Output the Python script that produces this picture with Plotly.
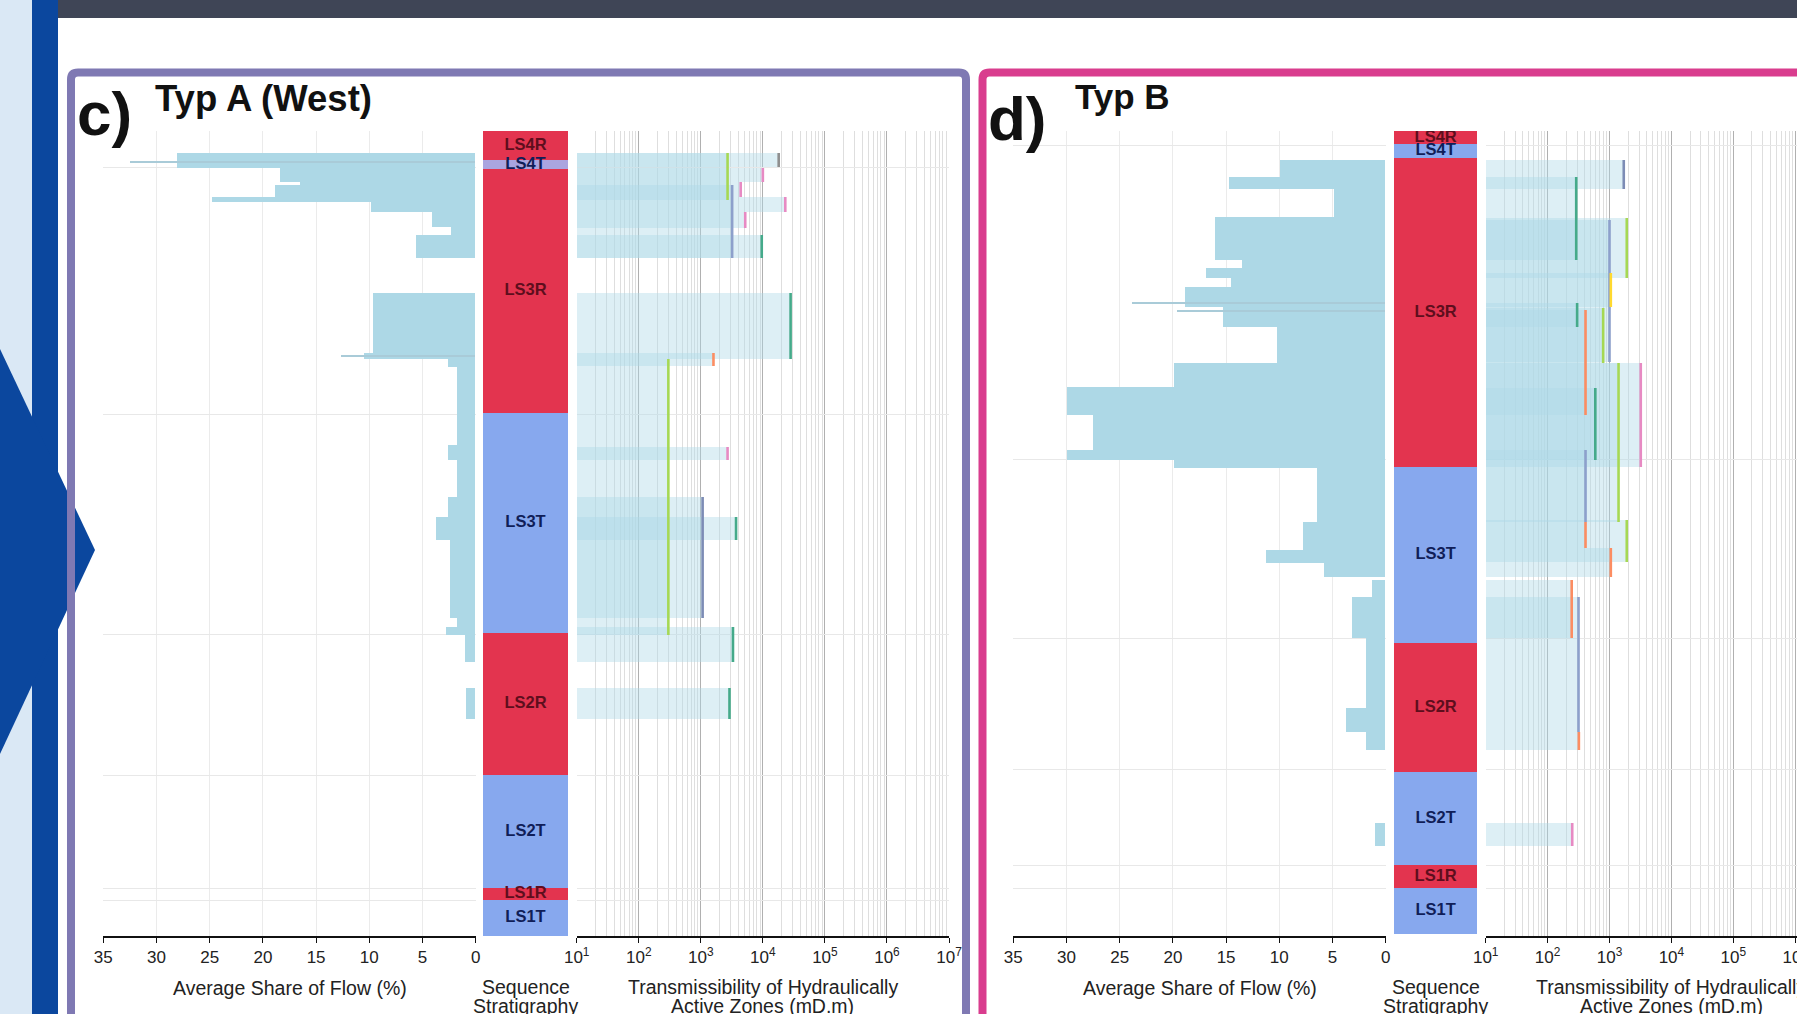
import plotly.graph_objects as go

W, H = 1797, 1014

# ======================= DATA =======================
strat_units = ["LS4R", "LS4T", "LS3R", "LS3T", "LS2R", "LS2T", "LS1R", "LS1T"]

# ---- panel c : Typ A (West) ----  (depth below top of section, m)
c_strat_top = [0, 29, 38, 282, 502, 644, 757, 769]
c_strat_base = [29, 38, 282, 502, 644, 757, 769, 805]
c_grid_depths = [36, 283, 503, 644, 757, 769]

c_flow_top = [22, 37, 51, 54, 66, 71, 81, 96, 104, 162, 222, 228, 236, 314, 329, 366, 386, 409, 487, 496, 504, 557]
c_flow_base = [37, 51, 54, 66, 71, 81, 96, 104, 127, 222, 228, 236, 314, 329, 366, 386, 409, 487, 496, 504, 531, 588]
c_flow_share = [28.0, 18.4, 16.5, 18.8, 24.8, 9.8, 4.1, 2.3, 5.6, 9.6, 10.5, 2.6, 1.7, 2.6, 1.7, 2.6, 3.7, 2.4, 1.7, 2.8, 1.0, 0.9]
c_trace_depth = [31, 225]
c_trace_share = [32.5, 12.6]

c_zone_top = [22, 22, 37, 51, 66, 81, 54, 104, 162, 222, 228, 316, 366, 386, 496, 557]
c_zone_base = [36, 69, 51, 66, 81, 97, 127, 127, 228, 235, 504, 329, 487, 409, 531, 588]
c_zone_T = [1.8e4, 2.7e3, 1.0e4, 4.4e3, 2.3e4, 5.2e3, 3.2e3, 9.6e3, 2.8e4, 1.6e3, 300, 2.7e3, 1.07e3, 3.7e3, 3.3e3, 2.9e3]
c_zone_group = ["G8", "G5", "G4", "G4", "G4", "G4", "G3", "G1", "G1", "G2", "G5", "G4", "G9", "G1", "G1", "G1"]

# ---- panel d : Typ B ----
d_strat_top = [0, 13, 27, 336, 512, 641, 734, 757]
d_strat_base = [13, 27, 336, 512, 641, 734, 757, 803]
d_grid_depths = [0, 14, 328, 507, 638, 734, 757]

d_flow_top = [29, 46, 58, 86, 129, 137, 147, 156, 176, 196, 232, 256, 284, 319, 329, 337, 391, 419, 432, 449, 466, 507, 577, 601, 692]
d_flow_base = [46, 58, 86, 129, 137, 147, 156, 176, 196, 232, 256, 284, 319, 329, 337, 391, 419, 432, 446, 466, 507, 577, 601, 619, 715]
d_flow_share = [9.9, 14.7, 4.8, 16.0, 13.5, 16.9, 14.5, 18.8, 15.3, 10.2, 19.9, 29.9, 27.5, 29.9, 19.9, 6.4, 7.7, 11.2, 5.8, 1.3, 3.1, 1.8, 3.7, 1.8, 1.0]
d_trace_depth = [172, 180]
d_trace_share = [23.8, 19.6]

d_zone_top = [29, 46, 87, 89, 142, 172, 179, 177, 232, 232, 257, 319, 391, 389, 417, 449, 466, 601, 692]
d_zone_base = [58, 129, 147, 231, 176, 196, 284, 232, 391, 336, 329, 391, 417, 431, 446, 507, 601, 619, 715]
d_zone_T = [1.7e3, 290, 1.9e3, 1.0e3, 1.05e3, 300, 410, 790, 1.4e3, 3.2e3, 590, 410, 410, 1.9e3, 1.05e3, 245, 316, 320, 250]
d_zone_group = ["G9", "G1", "G5", "G3", "G6", "G1", "G2", "G5", "G5", "G4", "G1", "G3", "G2", "G5", "G2", "G2", "G3", "G2", "G4"]

flow_ticks = [35, 30, 25, 20, 15, 10, 5, 0]
log_ticks = [1e1, 1e2, 1e3, 1e4, 1e5, 1e6, 1e7]
log_ticktext = ["10<sup>1</sup>", "10<sup>2</sup>", "10<sup>3</sup>", "10<sup>4</sup>",
                "10<sup>5</sup>", "10<sup>6</sup>", "10<sup>7</sup>"]

# ======================= STYLE =======================
FONT = "Liberation Sans, Arial, sans-serif"
FLOW_COLOR = "#add8e6"
ZONE_FILL = "rgba(173,216,230,0.42)"
RED = "#e3344f"
BLUE = "#87a8ee"
LAV = "#aaa5e0"
group_colors = {"G1": "#45aa8a", "G2": "#fc8d62", "G3": "#8da0cb", "G4": "#e78ac3",
                "G5": "#a6d854", "G6": "#ffd92f", "G8": "#8f8f8f", "G9": "#7d8cb5"}


def px_x(p):
    return p / W


def px_y(p):
    return 1 - p / H


fig = go.Figure()


def add_panel(xf, xs, xl, yg, ys, s_top, s_base, f_top, f_base, f_share,
              t_depth, t_share, z_top, z_base, z_T, z_group, unit_colors):
    # flow share bars
    fig.add_trace(go.Bar(
        orientation="h", x=f_share,
        y=[(a + b) / 2 for a, b in zip(f_top, f_base)],
        width=[b - a for a, b in zip(f_top, f_base)],
        marker=dict(color=FLOW_COLOR, line=dict(width=0)),
        xaxis=xf, yaxis=yg, showlegend=False, hoverinfo="skip"))
    fig.add_trace(go.Bar(
        orientation="h", x=t_share, y=t_depth, width=[1.2] * len(t_depth),
        marker=dict(color="#a9cbd8", line=dict(width=0)),
        xaxis=xf, yaxis=yg, showlegend=False, hoverinfo="skip"))
    # stratigraphy column
    fig.add_trace(go.Bar(
        orientation="h", x=[1] * len(strat_units), base=[0] * len(strat_units),
        y=[(a + b) / 2 for a, b in zip(s_top, s_base)],
        width=[b - a for a, b in zip(s_top, s_base)],
        marker=dict(color=unit_colors, line=dict(width=0)),
        xaxis=xs, yaxis=ys, showlegend=False, hoverinfo="skip"))
    fig.add_trace(go.Scatter(
        x=[0.5] * len(strat_units),
        y=[(a + b) / 2 for a, b in zip(s_top, s_base)],
        mode="text", text=["<b>%s</b>" % u for u in strat_units],
        textfont=dict(family=FONT, size=16.5,
                      color=["#5e0e1d" if u.endswith("R") else "#101e58" for u in strat_units]),
        xaxis=xs, yaxis=ys, showlegend=False, hoverinfo="skip"))
    # transmissibility zones
    fig.add_trace(go.Bar(
        orientation="h", base=[10] * len(z_T), x=[t - 10 for t in z_T],
        y=[(a + b) / 2 for a, b in zip(z_top, z_base)],
        width=[b - a for a, b in zip(z_top, z_base)],
        marker=dict(color=ZONE_FILL, line=dict(width=0)),
        xaxis=xl, yaxis=yg, showlegend=False, hoverinfo="skip"))
    for a, b, t, g in zip(z_top, z_base, z_T, z_group):
        fig.add_trace(go.Scatter(
            x=[t, t], y=[a, b], mode="lines",
            line=dict(color=group_colors[g], width=2.6),
            xaxis=xl, yaxis=yg, showlegend=False, hoverinfo="skip"))


c_unit_colors = [RED if u.endswith("R") else BLUE for u in strat_units]
c_unit_colors[1] = LAV
d_unit_colors = [RED if u.endswith("R") else BLUE for u in strat_units]

add_panel("x", "x2", "x3", "y", "y3", c_strat_top, c_strat_base, c_flow_top, c_flow_base,
          c_flow_share, c_trace_depth, c_trace_share, c_zone_top, c_zone_base, c_zone_T,
          c_zone_group, c_unit_colors)
add_panel("x4", "x5", "x6", "y2", "y4", d_strat_top, d_strat_base, d_flow_top, d_flow_base,
          d_flow_share, d_trace_depth, d_trace_share, d_zone_top, d_zone_base, d_zone_T,
          d_zone_group, d_unit_colors)

ydom = [px_y(936), px_y(131)]
tickfont = dict(family=FONT, size=17, color="#222222")


def flow_axis(dom, anchor):
    return dict(domain=dom, anchor=anchor, range=[35, 0], tickmode="array",
                tickvals=flow_ticks, ticktext=[str(v) for v in flow_ticks],
                showgrid=True, gridcolor="#ebebeb", gridwidth=1, zeroline=False,
                showline=True, linecolor="#111111", linewidth=1.5,
                ticks="outside", ticklen=5, tickcolor="#111111", tickwidth=1.2,
                tickfont=tickfont, fixedrange=True, automargin=False)


def log_axis(dom, anchor, rng):
    return dict(domain=dom, anchor=anchor, type="log", range=rng, tickmode="array",
                tickvals=log_ticks, ticktext=log_ticktext,
                showgrid=True, gridcolor="#b0b0b0", gridwidth=1, zeroline=False,
                minor=dict(dtick="D1", showgrid=True, gridcolor="#dedede", gridwidth=1, ticks=""),
                showline=True, linecolor="#111111", linewidth=1.5,
                ticks="outside", ticklen=5, tickcolor="#111111", tickwidth=1.2,
                tickfont=tickfont, fixedrange=True, automargin=False,
                ticklabeloverflow="allow")


def strat_axis(dom, anchor):
    return dict(domain=dom, anchor=anchor, range=[0, 1], visible=False, fixedrange=True,
                automargin=False)


def depth_axis(grid):
    return dict(domain=ydom, range=[805, 0], tickmode="array", tickvals=grid,
                showticklabels=False, ticks="", showgrid=True, gridcolor="#e8e8e8",
                gridwidth=1, zeroline=False, showline=False, fixedrange=True, automargin=False)


layout = dict(
    width=W, height=H, autosize=False,
    margin=dict(l=0, r=0, t=0, b=0, pad=0, autoexpand=False),
    paper_bgcolor="white", plot_bgcolor="white", barmode="overlay", bargap=0,
    showlegend=False, font=dict(family=FONT, color="#222222"),
    xaxis=flow_axis([px_x(103.3), px_x(475.7)], "y"),
    xaxis2=strat_axis([px_x(483), px_x(568)], "y3"),
    xaxis3=log_axis([px_x(576.7), px_x(949)], "y", [1, 7]),
    xaxis4=flow_axis([px_x(1013.3), px_x(1385.7)], "y2"),
    xaxis5=strat_axis([px_x(1394), px_x(1477.3)], "y4"),
    xaxis6=log_axis([px_x(1485.7), 1.0], "y2", [1, 1 + (1797 - 1485.7) / 61.9]),
    yaxis=dict(anchor="x", **depth_axis(c_grid_depths)),
    yaxis2=dict(anchor="x4", **depth_axis(d_grid_depths)),
    yaxis3=dict(anchor="x2", domain=ydom, range=[805, 0], visible=False, fixedrange=True,
                automargin=False),
    yaxis4=dict(anchor="x5", domain=ydom, range=[805, 0], visible=False, fixedrange=True,
                automargin=False),
)
fig.update_layout(**layout)


# ---------- slide decorations ----------
def rounded_frame(x0, y0, x1, y1, r):
    # path in pixel space -> paper coordinates (rounded top corners)
    pts = "M %f,%f L %f,%f Q %f,%f %f,%f L %f,%f Q %f,%f %f,%f L %f,%f" % (
        px_x(x0), px_y(y1),
        px_x(x0), px_y(y0 + r),
        px_x(x0), px_y(y0), px_x(x0 + r), px_y(y0),
        px_x(x1 - r), px_y(y0),
        px_x(x1), px_y(y0), px_x(x1), px_y(y0 + r),
        px_x(x1), px_y(y1))
    return pts


shapes = [
    dict(type="rect", xref="paper", yref="paper", x0=0, x1=px_x(32), y0=-0.01, y1=1.01,
         fillcolor="#dae8f5", line=dict(width=0), layer="below"),
    dict(type="rect", xref="paper", yref="paper", x0=px_x(32), x1=px_x(58), y0=-0.01, y1=1.01,
         fillcolor="#0b479e", line=dict(width=0)),
    dict(type="path", xref="paper", yref="paper",
         path="M 0,%f L %f,%f L 0,%f Z" % (px_y(349), px_x(95), px_y(550), px_y(754)),
         fillcolor="#0b479e", line=dict(width=0)),
    dict(type="rect", xref="paper", yref="paper", x0=px_x(58), x1=1.01, y0=px_y(18), y1=1.01,
         fillcolor="#3f4556", line=dict(width=0)),
    dict(type="path", xref="paper", yref="paper", path=rounded_frame(71, 72.5, 966, 1030, 7),
         line=dict(color="#7f79b3", width=8)),
    dict(type="path", xref="paper", yref="paper", path=rounded_frame(982.5, 72.5, 1830, 1030, 7),
         line=dict(color="#d93d8e", width=8)),
]
fig.update_layout(shapes=shapes)

ann = []


def txt(text, x, y, size, bold=False, xanchor="center", color="#222222"):
    ann.append(dict(text=("<b>%s</b>" % text) if bold else text, x=px_x(x), y=px_y(y),
                    xref="paper", yref="paper", showarrow=False, xanchor=xanchor,
                    yanchor="middle", font=dict(family=FONT, size=size, color=color)))


# panel titles
txt("c)", 75, 113, 62, bold=True, xanchor="left", color="#111111")
txt("Typ A (West)", 153, 98, 36.5, bold=True, xanchor="left", color="#111111")
txt("d)", 986, 118, 62, bold=True, xanchor="left", color="#111111")
txt("Typ B", 1073, 96, 35, bold=True, xanchor="left", color="#111111")

# axis titles
for xc_flow, xc_strat, xc_log in [(289.5, 525.5, 762.8), (1199.5, 1435.6, 1671.4)]:
    txt("Average Share of Flow (%)", xc_flow, 988, 19.5)
    txt("Sequence", xc_strat, 987, 19.5)
    txt("Stratigraphy", xc_strat, 1006, 19.5)
    txt("Transmissibility of Hydraulically", xc_log, 987, 19.5)
    txt("Active Zones (mD.m)", xc_log, 1006, 19.5)

fig.update_layout(annotations=ann)

fig.write_html(
    "out.html",
    config={"displayModeBar": False, "responsive": False},
    post_script="document.body.style.margin='0';document.body.style.padding='0';"
                "document.body.style.overflow='hidden';"
                "document.documentElement.style.overflow='hidden';")
